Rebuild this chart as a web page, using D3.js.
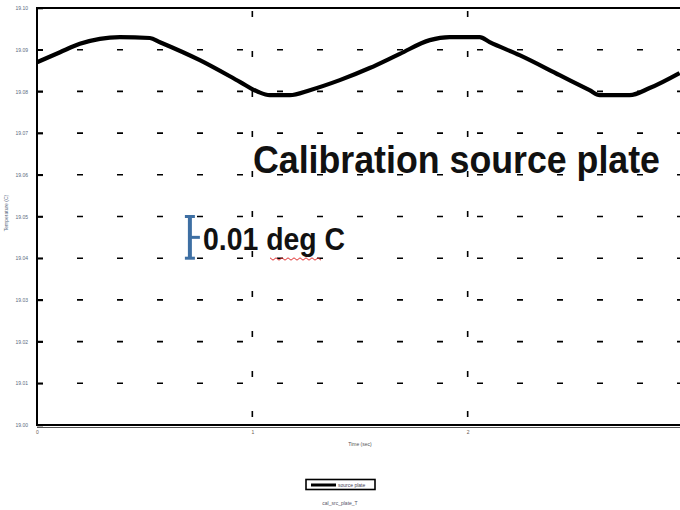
<!DOCTYPE html>
<html>
<head>
<meta charset="utf-8">
<script src="https://cdn.jsdelivr.net/npm/d3@7"></script>
<style>
  html, body { margin: 0; padding: 0; background: #fff; overflow: hidden; }
  svg { display: block; font-family: "Liberation Sans", Arial, sans-serif; }
</style>
</head>
<body>
<svg id="chart" width="680" height="510"></svg>
<script>
// Plate temperature over time
const timeValues = [0, 0.107, 0.199, 0.292, 0.385, 0.524, 0.571, 0.756, 0.942, 1.026, 1.081, 1.174,
  1.267, 1.406, 1.545, 1.685, 1.824, 1.916, 2.056, 2.102, 2.241, 2.427, 2.566, 2.613, 2.752, 2.845, 2.984];
const tempValues = [19.0870, 19.0894, 19.0914, 19.0926, 19.0930, 19.0928, 19.0918, 19.0875, 19.0823,
  19.0799, 19.0791, 19.0791, 19.0803, 19.0827, 19.0856, 19.0890, 19.0923, 19.0930, 19.0930, 19.0918,
  19.0887, 19.0839, 19.0803, 19.0791, 19.0791, 19.0808, 19.0844];

const yTicks = [19.00, 19.01, 19.02, 19.03, 19.04, 19.05, 19.06, 19.07, 19.08, 19.09, 19.10];
const xTicks = [0, 1, 2, 3];

// Scale bar: 0.01 deg C
const scaleBarX = 0.71;
const scaleBarRange = [19.04, 19.05];

const svg = d3.select("#chart");
const x = d3.scaleLinear().domain([0, 3]).range([37, 683]);
const y = d3.scaleLinear().domain([19.00, 19.10]).range([425, 8]);

// dashed horizontal grid
svg.append("g").selectAll("line").data(yTicks).join("line")
  .attr("x1", 37).attr("x2", 683)
  .attr("y1", d => y(d)).attr("y2", d => y(d))
  .attr("stroke", "#000").attr("stroke-width", 1.6)
  .attr("stroke-dasharray", "6,34");

// dashed vertical grid
svg.append("g").selectAll("line").data(xTicks.slice(1)).join("line")
  .attr("x1", d => x(d)).attr("x2", d => x(d))
  .attr("y1", 8).attr("y2", 425)
  .attr("stroke", "#000").attr("stroke-width", 1.6)
  .attr("stroke-dasharray", "6,34").attr("stroke-dashoffset", -3);

// frame
svg.append("path")
  .attr("d", `M683,8 H37 V425 H683`)
  .attr("fill", "none").attr("stroke", "#000").attr("stroke-width", 2);
svg.append("line").attr("x1", 37).attr("x2", 683).attr("y1", 427.5).attr("y2", 427.5)
  .attr("stroke", "#555").attr("stroke-width", 1);

// left axis ticks and labels
const yAxis = d3.axisLeft(y).tickValues(yTicks).tickFormat(d3.format(".2f")).tickSize(-6).tickPadding(9);
const ga = svg.append("g").attr("transform", "translate(37,0)").call(yAxis);
ga.select(".domain").remove();
ga.selectAll(".tick line").attr("stroke", "#000").attr("stroke-width", 1.6);
ga.selectAll(".tick text").attr("font-size", 5).attr("fill", "#5a6a80").attr("font-family", "Liberation Sans, Arial");

// bottom axis labels
const xAxis = d3.axisBottom(x).tickValues(xTicks).tickFormat(d3.format("d")).tickSize(0).tickPadding(5);
const gb = svg.append("g").attr("transform", "translate(0,425)").call(xAxis);
gb.select(".domain").remove();
gb.selectAll(".tick text").attr("font-size", 5).attr("fill", "#6a5a50").attr("font-family", "Liberation Sans, Arial");

// axis titles
svg.append("text").attr("x", 360).attr("y", 446).attr("text-anchor", "middle")
  .attr("font-size", 5).attr("fill", "#555").text("Time (sec)");
svg.append("text").attr("transform", "translate(8,213) rotate(-90)").attr("text-anchor", "middle")
  .attr("font-size", 5).attr("fill", "#5a6a80").text("Temperature (C)");

// temperature curve
const pts = timeValues.map((t, i) => [t, tempValues[i]]);
svg.append("path").datum(pts)
  .attr("fill", "none").attr("stroke", "#000").attr("stroke-width", 4.2)
  .attr("stroke-linejoin", "round")
  .attr("d", d3.line().x(d => x(d[0])).y(d => y(d[1])).curve(d3.curveMonotoneX));

// scale bar
const sb = svg.append("g").attr("stroke", "#3e6fa3").attr("stroke-width", 4).attr("fill", "none");
const sx = x(scaleBarX);
sb.append("line").attr("x1", sx).attr("x2", sx).attr("y1", y(scaleBarRange[0])).attr("y2", y(scaleBarRange[1]));
sb.append("line").attr("x1", sx - 5).attr("x2", sx + 5).attr("y1", y(scaleBarRange[0])).attr("y2", y(scaleBarRange[0])).attr("stroke-width", 3);
sb.append("line").attr("x1", sx - 5).attr("x2", sx + 5).attr("y1", y(scaleBarRange[1])).attr("y2", y(scaleBarRange[1])).attr("stroke-width", 3);
sb.append("line").attr("x1", sx).attr("x2", sx + 10)
  .attr("y1", y((scaleBarRange[0] + scaleBarRange[1]) / 2)).attr("y2", y((scaleBarRange[0] + scaleBarRange[1]) / 2)).attr("stroke-width", 3);

// annotations
svg.append("text").attr("x", 253).attr("y", 173)
  .attr("font-size", 38).attr("font-weight", "bold").attr("fill", "#111")
  .attr("textLength", 407).attr("lengthAdjust", "spacingAndGlyphs")
  .text("Calibration source plate");
svg.append("text").attr("x", 203).attr("y", 250)
  .attr("font-size", 31).attr("font-weight", "bold").attr("fill", "#111")
  .attr("textLength", 142).attr("lengthAdjust", "spacingAndGlyphs")
  .text("0.01 deg C");
// wavy underline under "deg"
const wave = [];
for (let px = 270; px <= 321; px += 3) wave.push([px, 259 + ((px - 270) / 3 % 2 === 0 ? -1.2 : 1.2)]);
svg.append("path").attr("d", d3.line()(wave)).attr("fill", "none").attr("stroke", "#e03030").attr("stroke-width", 1);

// legend
svg.append("rect").attr("x", 306).attr("y", 479.5).attr("width", 69).attr("height", 10)
  .attr("fill", "#fff").attr("stroke", "#000").attr("stroke-width", 1.6);
svg.append("line").attr("x1", 311).attr("x2", 336).attr("y1", 485).attr("y2", 485)
  .attr("stroke", "#000").attr("stroke-width", 3);
svg.append("text").attr("x", 338).attr("y", 487).attr("font-size", 5).attr("fill", "#445").text("source plate");
svg.append("text").attr("x", 340).attr("y", 505).attr("text-anchor", "middle")
  .attr("font-size", 5).attr("fill", "#556").text("cal_src_plate_T");
</script>
</body>
</html>
